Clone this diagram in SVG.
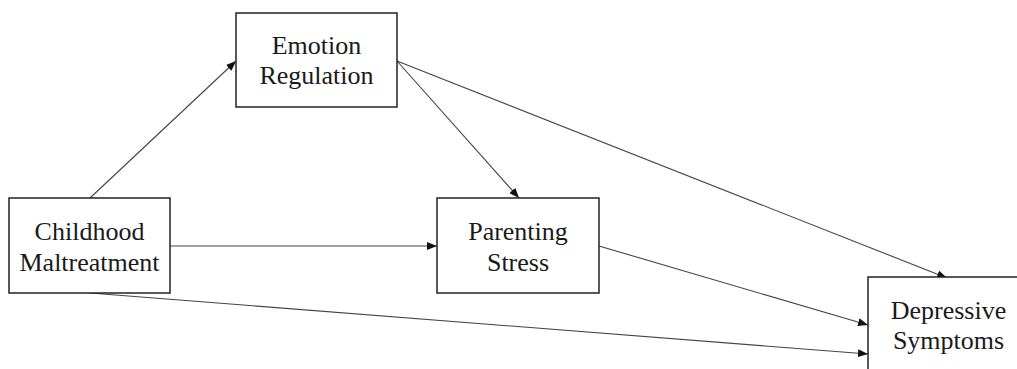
<svg xmlns="http://www.w3.org/2000/svg" width="1017" height="369" viewBox="0 0 1017 369">
<style>
.box{fill:#fff;stroke:#222;stroke-width:1.5}
.lbl{font-family:"Liberation Serif",serif;font-size:26px;fill:#1a1a1a;text-anchor:middle}
.edge{stroke:#444;stroke-width:1.1;fill:none;marker-end:url(#ah)}
</style>
<defs>
<marker id="ah" viewBox="0 0 10 8" refX="10" refY="4" markerWidth="10" markerHeight="8" markerUnits="userSpaceOnUse" orient="auto">
<path d="M0,0 L10,4 L0,8 Z" fill="#111"/>
</marker>
</defs>
<rect width="1017" height="369" fill="#fff"/>
<g id="connectors">
<line class="edge" x1="90" y1="198" x2="236" y2="61"/>
<line class="edge" x1="170" y1="246" x2="437" y2="246"/>
<line class="edge" x1="90" y1="293" x2="868" y2="354"/>
<line class="edge" x1="397" y1="61" x2="519" y2="198"/>
<line class="edge" x1="397" y1="61" x2="947" y2="278"/>
<line class="edge" x1="599" y1="246" x2="868" y2="325"/>
</g>
<g id="childhood">
<rect class="box" x="9" y="198" width="161" height="95"/>
<text class="lbl" x="89.5" y="240">Childhood</text>
<text class="lbl" x="89.5" y="271">Maltreatment</text>
</g>
<g id="emotion">
<rect class="box" x="236" y="13" width="161" height="94"/>
<text class="lbl" x="316.5" y="54">Emotion</text>
<text class="lbl" x="316.5" y="84">Regulation</text>
</g>
<g id="parenting">
<rect class="box" x="437" y="198" width="162" height="95"/>
<text class="lbl" x="518" y="240">Parenting</text>
<text class="lbl" x="518" y="271">Stress</text>
</g>
<g id="depressive">
<rect class="box" x="868" y="277" width="161" height="100"/>
<text class="lbl" x="948.5" y="319">Depressive</text>
<text class="lbl" x="948.5" y="349">Symptoms</text>
</g>
</svg>
